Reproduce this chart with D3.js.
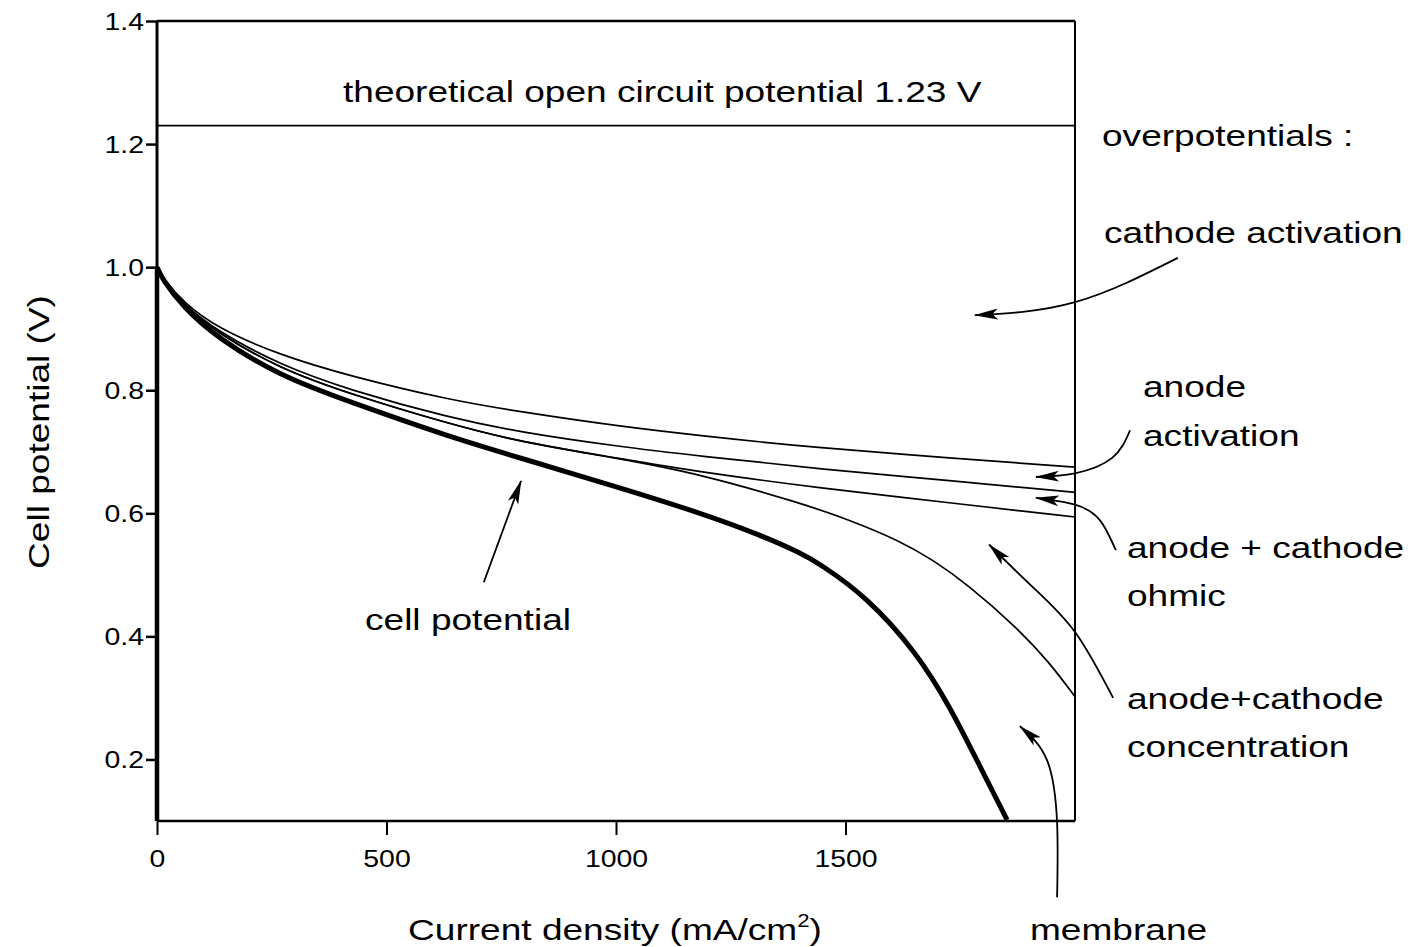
<!DOCTYPE html>
<html>
<head>
<meta charset="utf-8">
<script src="https://cdn.jsdelivr.net/npm/d3@7"></script>
<style>
  html, body { margin: 0; padding: 0; background: #fff; }
  svg { display: block; }
  text { font-family: "Liberation Sans", Arial, Helvetica, sans-serif; fill: #000; }
</style>
</head>
<body>
<svg id="chart" width="1412" height="947"></svg>
<script>
// ---- data (current density in mA/cm2, potential in V) ----
const currentGrid = [0, 11, 57, 131, 268, 420, 638, 791, 1000, 1183, 1444, 1728, 2000];
const cathodeActivation = [1.000, 0.984, 0.943, 0.901, 0.857, 0.823, 0.784, 0.765, 0.742, 0.726, 0.706, 0.690, 0.675];
const anodeActivation   = [1.000, 0.982, 0.940, 0.896, 0.841, 0.800, 0.755, 0.732, 0.709, 0.693, 0.672, 0.653, 0.634];
const ohmic             = [1.000, 0.982, 0.939, 0.893, 0.835, 0.794, 0.745, 0.716, 0.690, 0.667, 0.641, 0.617, 0.594];

const concCurrent   = [0, 11, 57, 131, 268, 420, 638, 791, 1000, 1183, 1401, 1510, 1619, 1691, 1765, 1874, 1945, 2000];
const concentration = [1.000, 0.982, 0.939, 0.893, 0.835, 0.794, 0.745, 0.716, 0.690, 0.664, 0.617, 0.589, 0.555, 0.524, 0.485, 0.414, 0.357, 0.302];

const cellCurrent   = [0, 11, 57, 131, 268, 420, 638, 791, 1002, 1183, 1314, 1401, 1444, 1547, 1656, 1728, 1786, 1852];
const cellPotential = [1.000, 0.981, 0.935, 0.885, 0.823, 0.781, 0.724, 0.690, 0.643, 0.601, 0.565, 0.536, 0.518, 0.464, 0.373, 0.285, 0.199, 0.102];

const theoreticalOCV = 1.23;
const xTicks = [0, 500, 1000, 1500];
const yTicks = [0.2, 0.4, 0.6, 0.8, 1.0, 1.2, 1.4];

// annotation arrows (data coordinates: [current, potential]); last point is the tip
const arrowCathode = [[2224, 1.015], [2000, 0.943], [1782, 0.922]];
const arrowAnode   = [[2120, 0.735], [2081, 0.690], [2000, 0.665], [1915, 0.659]];
const arrowOhmic   = [[2089, 0.540], [2054, 0.589], [2000, 0.614], [1915, 0.625]];
const arrowConc    = [[2083, 0.300], [2000, 0.407], [1908, 0.480], [1813, 0.549]];
const arrowMembr   = [[1961, -0.024], [1961, 0.097], [1939, 0.199], [1880, 0.254]];
const arrowCell    = [[712, 0.488], [793, 0.6525]];

// ---- drawing ----
const svg = d3.select("#chart");
const x = d3.scaleLinear().domain([0, 2000]).range([157, 1075]);
const y = d3.scaleLinear().domain([0.1, 1.4]).range([821, 21]);

const STRETCH = 1.235;
function stretch(sel) {
  sel.each(function () {
    const len = this.getComputedTextLength();
    d3.select(this).attr("textLength", len * STRETCH).attr("lengthAdjust", "spacingAndGlyphs");
  });
}

// arrowhead marker
const defs = svg.append("defs");
defs.append("marker")
  .attr("id", "head")
  .attr("markerUnits", "userSpaceOnUse")
  .attr("markerWidth", 24).attr("markerHeight", 14)
  .attr("viewBox", "0 0 22 10")
  .attr("refX", 21).attr("refY", 5)
  .attr("orient", "auto")
  .append("path")
  .attr("d", "M0,0 L22,5 L0,10 L5,5 Z")
  .attr("fill", "#000");

// axes
const yAxis = d3.axisLeft(y).tickValues(yTicks).tickSize(11).tickPadding(2).tickFormat(d3.format(".1f"));
const gy = svg.append("g").attr("transform", `translate(${x(0)},0)`).call(yAxis);
gy.select(".domain").remove();
gy.selectAll(".tick line").attr("stroke", "#000").attr("stroke-width", 2.5);
gy.selectAll(".tick text").attr("font-size", 23).attr("dy", "0.36em").call(stretch);

const xAxis = d3.axisBottom(x).tickValues(xTicks).tickSize(14).tickPadding(16).tickFormat(d3.format("d"));
const gx = svg.append("g").attr("transform", `translate(0,${y(0.1)})`).call(xAxis);
gx.select(".domain").remove();
gx.selectAll(".tick line").attr("stroke", "#000").attr("stroke-width", 2);
gx.selectAll(".tick text").attr("font-size", 23).attr("dy", "0.71em").call(stretch);

// frame
svg.append("line").attr("x1", x(0)).attr("x2", x(2000)).attr("y1", y(1.4)).attr("y2", y(1.4)).attr("stroke", "#000").attr("stroke-width", 2.5);
svg.append("line").attr("x1", x(2000)).attr("x2", x(2000)).attr("y1", y(1.4)).attr("y2", y(0.1)).attr("stroke", "#000").attr("stroke-width", 2);
svg.append("line").attr("x1", x(0)).attr("x2", x(2000)).attr("y1", y(0.1)).attr("y2", y(0.1)).attr("stroke", "#000").attr("stroke-width", 2.5);
svg.append("line").attr("x1", x(0)).attr("x2", x(0)).attr("y1", y(1.4)).attr("y2", y(1.0)).attr("stroke", "#000").attr("stroke-width", 3);
// the cell-potential trace at zero current runs down the left edge (thick)
svg.append("line").attr("x1", x(0)).attr("x2", x(0)).attr("y1", y(cellPotential[0])).attr("y2", y(0.1)).attr("stroke", "#000").attr("stroke-width", 4.5);

// theoretical OCV
svg.append("line").attr("x1", x(0)).attr("x2", x(2000)).attr("y1", y(theoreticalOCV)).attr("y2", y(theoreticalOCV)).attr("stroke", "#000").attr("stroke-width", 1.6);

// curves
const line = d3.line().x(d => x(d[0])).y(d => y(d[1])).curve(d3.curveBasis);
const zip = (a, b) => a.map((v, i) => [v, b[i]]);
const curves = [
  { d: zip(currentGrid, cathodeActivation), w: 1.7 },
  { d: zip(currentGrid, anodeActivation), w: 1.7 },
  { d: zip(currentGrid, ohmic), w: 1.7 },
  { d: zip(concCurrent, concentration), w: 1.7 },
  { d: zip(cellCurrent, cellPotential), w: 5 }
];
svg.append("g").selectAll("path").data(curves).join("path")
  .attr("d", c => line(c.d)).attr("fill", "none").attr("stroke", "#000")
  .attr("stroke-width", c => c.w).attr("stroke-linejoin", "round");

// arrows
const aline = d3.line().x(d => x(d[0])).y(d => y(d[1])).curve(d3.curveNatural);
svg.append("g").selectAll("path")
  .data([arrowCathode, arrowAnode, arrowOhmic, arrowConc, arrowMembr, arrowCell]).join("path")
  .attr("d", aline).attr("fill", "none").attr("stroke", "#000").attr("stroke-width", 1.8)
  .attr("marker-end", "url(#head)");

// texts
const labels = [
  { t: "theoretical open circuit potential 1.23 V", x: 343, y: 102 },
  { t: "overpotentials :", x: 1102, y: 146 },
  { t: "cathode activation", x: 1104, y: 243 },
  { t: "anode", x: 1143, y: 397 },
  { t: "activation", x: 1143, y: 446 },
  { t: "anode + cathode", x: 1127, y: 558 },
  { t: "ohmic", x: 1127, y: 606 },
  { t: "anode+cathode", x: 1127, y: 709 },
  { t: "concentration", x: 1127, y: 757 },
  { t: "membrane", x: 1030, y: 940 },
  { t: "cell potential", x: 365, y: 630 }
];
svg.append("g").selectAll("text").data(labels).join("text")
  .attr("x", d => d.x).attr("y", d => d.y).attr("font-size", 30).text(d => d.t).call(stretch);

// axis titles
const xt = svg.append("text").attr("x", 615).attr("y", 940).attr("font-size", 30).attr("text-anchor", "middle");
xt.append("tspan").text("Current density (mA/cm");
xt.append("tspan").attr("font-size", 18).attr("dy", -13).text("2");
xt.append("tspan").attr("dy", 13).text(")");
xt.call(stretch);

svg.append("text").attr("transform", "translate(49,432) rotate(-90)")
  .attr("text-anchor", "middle").attr("font-size", 30).text("Cell potential (V)").call(stretch);
</script>
</body>
</html>
